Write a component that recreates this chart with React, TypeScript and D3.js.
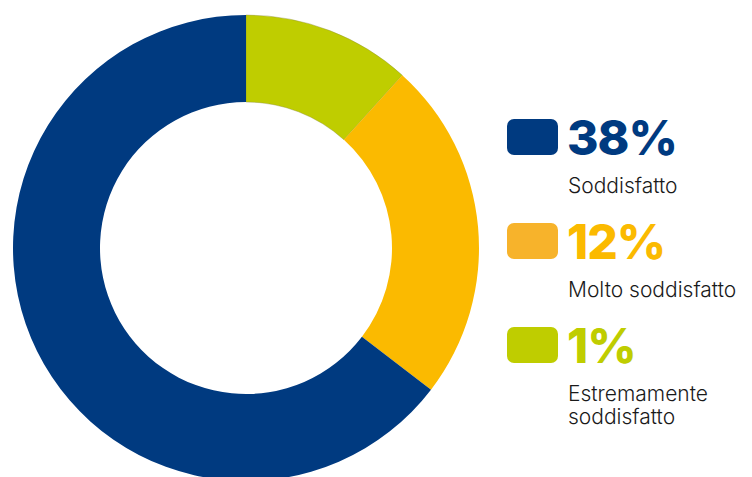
import React, { useMemo } from "react";
import { pie, arc } from "d3";

const WIDTH = 752;
const HEIGHT = 477;

// slice shares (clockwise from 12 o'clock)
const sliceKeys = ["estremamente", "molto", "soddisfatto"];
const sliceValues = [11.7, 23.7, 64.6];
const sliceColors = ["#BFCD00", "#FBBA00", "#003A80"];

// legend as printed
const legendValues = ["38%", "12%", "1%"];
const legendLabels = [["Soddisfatto"], ["Molto soddisfatto"], ["Estremamente", "soddisfatto"]];
const legendSwatch = ["#003A80", "#F7B32B", "#BFCD00"];
const legendText = ["#003A80", "#FBBA00", "#BFCD00"];

const CX = 246;
const CY = 248;
const R_OUT = 233;
const R_IN = 146;

const ROW_BASE = [155, 259, 363];

export default function App() {
  const arcs = useMemo(() => {
    const gen = pie<number>().sort(null).value((d) => d);
    return gen(sliceValues);
  }, []);

  const arcPath = arc<any>().innerRadius(R_IN).outerRadius(R_OUT);

  return (
    <div style={{ position: "fixed", left: 0, top: 0, width: WIDTH, height: HEIGHT, background: "#fff" }}>
      <svg width={WIDTH} height={HEIGHT} viewBox={`0 0 ${WIDTH} ${HEIGHT}`} style={{ display: "block" }}>
        <g transform={`translate(${CX},${CY})`}>
          {arcs.map((a, i) => (
            <path
              key={sliceKeys[i]}
              d={arcPath(a) || ""}
              fill={sliceColors[i]}
              stroke={i === 0 ? "#8a8a3a" : "none"}
              strokeWidth={0.4}
            />
          ))}
        </g>

        {/* Legend */}
        {legendValues.map((v, i) => {
          const base = ROW_BASE[i];
          return (
            <g key={v}>
              <rect x={507} y={base - 36} width={51} height={36} rx={7} fill={legendSwatch[i]} />
              <text
                x={567}
                y={base}
                fill={legendText[i]}
                fontFamily="Inter, sans-serif"
                fontWeight={800}
                fontSize={48}
                letterSpacing={-1}
              >
                {v}
              </text>
              {legendLabels[i].map((l, j) => (
                <text
                  key={l}
                  x={568}
                  y={base + 38 + j * 23}
                  fill="#1a1a1a"
                  fontFamily="Inter, sans-serif"
                  fontWeight={300}
                  fontSize={21}
                >
                  {l}
                </text>
              ))}
            </g>
          );
        })}
      </svg>
    </div>
  );
}
